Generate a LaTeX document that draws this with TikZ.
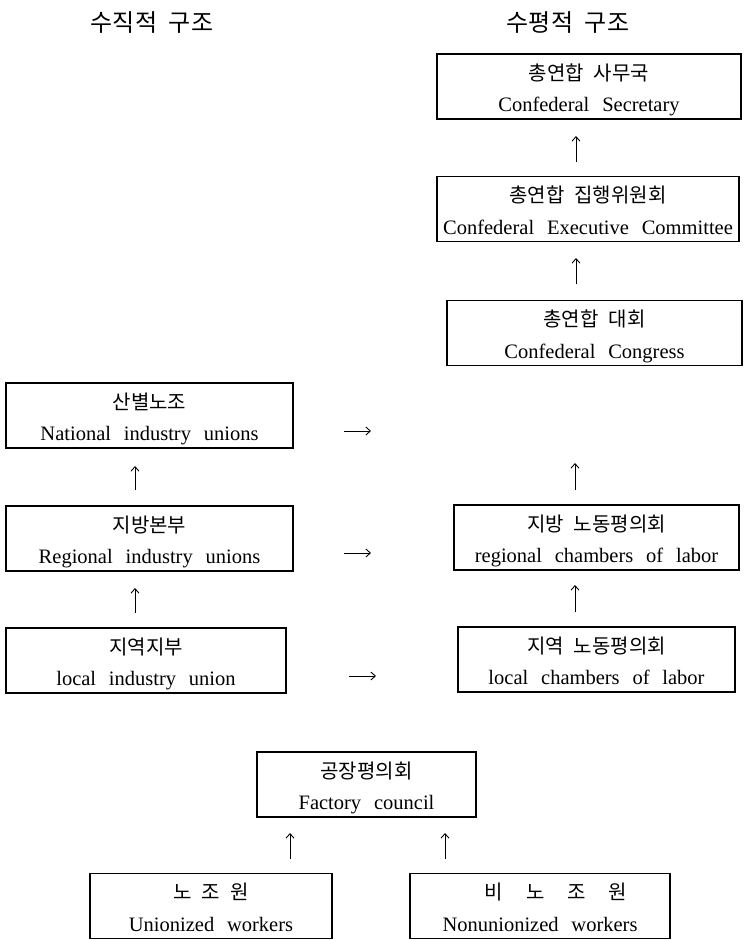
\documentclass[tikz,border=0pt]{standalone}
\usepackage{fontspec}
\setmainfont[WordSpace=2.5]{Liberation Serif}
\newfontfamily\kr[WordSpace=1.8]{Noto Sans CJK KR}
\newfontfamily\krhead[WordSpace=2.2]{Noto Sans CJK KR}
\newcommand\widegap{\hspace*{23pt}}
\usetikzlibrary{arrows.meta}
\begin{document}
\begin{tikzpicture}[x=1pt,y=-1pt,
  box/.style={draw, line width=1.6pt, inner sep=0pt, minimum height=65pt},
  krtext/.style={font=\kr\fontsize{20}{22}\selectfont, anchor=base, inner sep=0pt},
  entext/.style={font=\fontsize{20.5}{22}\selectfont, anchor=base, inner sep=0pt},
  heading/.style={font=\krhead\fontsize{24}{26}\selectfont, anchor=base, inner sep=0pt},
  link/.style={-{Straight Barb[length=4.5pt,width=8pt]}, line width=0.9pt}]
\useasboundingbox (0,0) rectangle (744,940);

% column headings
\node[heading] (hv) at (152,31) {수직적 구조};
\node[heading] (hh) at (568,31) {수평적 구조};

% horizontal structure (right column)
\node[box, minimum width=304pt] (sec)  at (589,86.5)  {};
\node[box, minimum width=302pt] (exe)  at (588,209)   {};
\node[box, minimum width=295pt] (cong) at (594.5,333) {};
\node[box, minimum width=285pt] (rch)  at (596.5,537.5) {};
\node[box, minimum width=277pt] (lch)  at (596.5,659.5) {};

% vertical structure (left column)
\node[box, minimum width=287pt] (nat) at (149.5,415.5) {};
\node[box, minimum width=287pt] (reg) at (149.5,538.5) {};
\node[box, minimum width=280pt] (loc) at (146,660.5)   {};

% workplace level
\node[box, minimum width=219pt] (fac) at (366.5,784.5) {};
\node[box, minimum width=242pt] (uni) at (211,906)     {};
\node[box, minimum width=260pt] (non) at (540,906)     {};

% two-line labels: Korean above, English below
\foreach \b/\k/\e in {
  sec/{총연합 사무국}/{Confederal Secretary},
  exe/{총연합 집행위원회}/{Confederal Executive Committee},
  cong/{총연합 대회}/{Confederal Congress},
  rch/{지방 노동평의회}/{regional chambers of labor},
  lch/{지역 노동평의회}/{local chambers of labor},
  nat/{산별노조}/{National industry unions},
  reg/{지방본부}/{Regional industry unions},
  loc/{지역지부}/{local industry union},
  fac/{공장평의회}/{Factory council},
  uni/{노 조 원}/{Unionized workers}}{
  \node[krtext] (\b-k) at ([yshift=-27pt]\b.north) {\k};
  \node[entext] (\b-e) at ([yshift=-58.5pt]\b.north) {\e};
}
% the non-union box has its Korean letters spread wider
\node[krtext] (non-k) at ([xshift=16pt,yshift=-27pt]non.north) {비\widegap 노\widegap 조\widegap 원};
\node[entext] (non-e) at ([yshift=-58.5pt]non.north) {Nonunionized workers};

% arrow end points
\coordinate (a1s) at (576,162); \coordinate (a1e) at (576,136);
\coordinate (a2s) at (576,284); \coordinate (a2e) at (576,258);
\coordinate (a3s) at (575,490); \coordinate (a3e) at (575,463);
\coordinate (a4s) at (575,612); \coordinate (a4e) at (575,585);
\coordinate (b1s) at (135,490); \coordinate (b1e) at (135,466);
\coordinate (b2s) at (135,613); \coordinate (b2e) at (135,588);
\coordinate (c1s) at (344,431); \coordinate (c1e) at (371,431);
\coordinate (c2s) at (344,553); \coordinate (c2e) at (371,553);
\coordinate (c3s) at (349,676); \coordinate (c3e) at (376,676);
\coordinate (d1s) at (290,859); \coordinate (d1e) at (290,833);
\coordinate (d2s) at (445,859); \coordinate (d2e) at (445,833);

\foreach \s/\t in {a1s/a1e,a2s/a2e,a3s/a3e,a4s/a4e,b1s/b1e,b2s/b2e,
                   c1s/c1e,c2s/c2e,c3s/c3e,d1s/d1e,d2s/d2e}
  \draw[link] (\s) -- (\t);
\end{tikzpicture}
\end{document}
